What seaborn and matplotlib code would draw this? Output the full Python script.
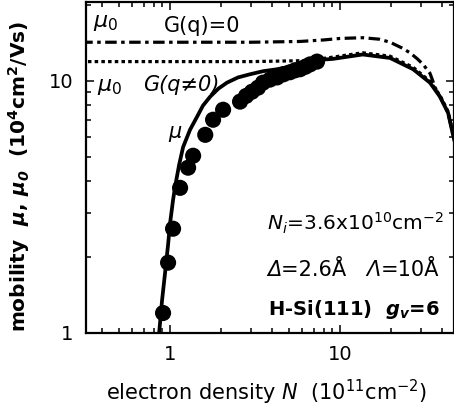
import numpy as np
import pandas as pd
import matplotlib
matplotlib.use("Agg")
import matplotlib.pyplot as plt
import seaborn as sns
from matplotlib.ticker import LogLocator, NullFormatter, FixedLocator, FixedFormatter

# ---------------- data ----------------
# measured mobility points (circles)
dots_N = [0.909, 0.973, 1.041, 1.145, 1.276, 1.366, 1.61, 1.79, 2.05, 2.58,
          2.80, 3.03, 3.29, 3.52, 3.87, 4.26, 4.65, 5.08, 5.45, 5.82, 6.25, 6.66, 7.32]
dots_mu = [1.20, 1.90, 2.59, 3.76, 4.52, 5.04, 6.10, 7.00, 7.67, 8.26,
           8.70, 9.04, 9.38, 9.82, 10.1, 10.3, 10.6, 10.8, 11.0, 11.1, 11.35, 11.6, 11.9]

# calculated mobility mu (solid)
mu_N = [0.855, 0.862, 0.897, 0.934, 0.973, 1.0, 1.041, 1.070, 1.13, 1.192, 1.31,
        1.44, 1.56, 1.72, 1.92, 2.16, 2.51, 2.95, 3.52, 4.26, 5.82, 7.63, 9.09,
        13.6, 19.7, 26.9, 33.8, 38.7, 43.2, 46.2, 48.0]
mu_val = [0.95, 1.00, 1.35, 1.73, 2.24, 2.73, 3.37, 3.80, 4.64, 5.45, 6.39,
          7.19, 7.96, 8.64, 9.29, 9.82, 10.3, 10.6, 10.9, 11.1, 11.6, 12.1, 12.2,
          12.7, 12.3, 11.1, 9.82, 8.64, 7.46, 6.10, 5.5]

# mu_0 with G(q)=0 (dash-dot)
g0_N = [0.30, 1.0, 3.0, 5.8, 8.0, 10.0, 13.6, 17.0, 19.7, 23.0, 25.8, 28.5,
        30.8, 33.8, 36.5, 38.7, 43.2, 46.2, 48.0]
g0_val = [14.2, 14.2, 14.2, 14.3, 14.5, 14.7, 14.8, 14.6, 14.2, 13.5, 12.9, 12.2,
          11.6, 10.7, 9.3, 8.64, 7.46, 6.10, 5.5]

# mu_0 with G(q!=0) (dotted)
gq_N = [0.30, 1.0, 3.0, 6.0, 7.6, 9.1, 13.6, 19.7, 26.9, 33.8, 38.7, 43.2, 46.2, 48.0]
gq_val = [11.9, 11.9, 11.9, 12.0, 12.2, 12.4, 12.9, 12.5, 11.3, 9.95, 8.75, 7.55, 6.2, 5.6]

xticks = [1, 10]
xticklabels = ["1", "10"]
yticks = [1, 10]
yticklabels = ["1", "10"]

# ---------------- style ----------------
sns.set_theme(style="ticks")
plt.rcParams["font.family"] = ["DejaVu Sans"]
plt.rcParams["mathtext.fontset"] = "dejavusans"
for k in ["text.color", "axes.labelcolor", "xtick.color", "ytick.color", "axes.edgecolor"]:
    plt.rcParams[k] = "black"

W, H = 454, 409
fig = plt.figure(figsize=(W / 100, H / 100), dpi=100)
fig.patch.set_facecolor("white")


def fx(px):
    return px / W


def fy(py):
    return 1 - py / H


ax = fig.add_axes([fx(86), fy(333), (453.5 - 86) / W, (333 - 2) / H])
ax.set_facecolor("white")

sns.lineplot(x=g0_N, y=g0_val, ax=ax, color="black", lw=2.3, sort=False,
             estimator=None, linestyle=(0, (3.6, 1.4, 1.1, 1.4)))
sns.lineplot(x=gq_N, y=gq_val, ax=ax, color="black", lw=2.3, sort=False,
             estimator=None, linestyle=(0, (1.1, 1.0)))
sns.lineplot(x=mu_N, y=mu_val, ax=ax, color="black", lw=2.7, sort=False,
             estimator=None)
sns.scatterplot(x=dots_N, y=dots_mu, ax=ax, color="black", s=135,
                edgecolor="none", zorder=3)

ax.set_xscale("log")
ax.set_yscale("log")
ax.set_xlim(0.32, 46.5)
ax.set_ylim(1, 20.5)

ax.xaxis.set_major_locator(FixedLocator(xticks))
ax.xaxis.set_major_formatter(FixedFormatter(xticklabels))
ax.yaxis.set_major_locator(FixedLocator(yticks))
ax.yaxis.set_major_formatter(FixedFormatter(yticklabels))
ax.xaxis.set_minor_locator(LogLocator(base=10, subs=np.arange(2, 10), numticks=20))
ax.yaxis.set_minor_locator(LogLocator(base=10, subs=np.arange(2, 10), numticks=20))
ax.xaxis.set_minor_formatter(NullFormatter())
ax.yaxis.set_minor_formatter(NullFormatter())

ax.tick_params(which="both", direction="in", top=True, right=True,
               color="black", width=1.1)
ax.tick_params(which="major", length=6, labelsize=14, labelcolor="black")
ax.tick_params(which="minor", length=3.5)
ax.tick_params(axis="x", which="major", pad=9)
ax.tick_params(axis="y", which="major", pad=9)
for sp in ax.spines.values():
    sp.set_color("black")
    sp.set_linewidth(1.6)
ax.set_xlabel("")
ax.set_ylabel("")

# ---------------- text ----------------
fs = 15
fig.canvas.draw()
renderer = fig.canvas.get_renderer()


def text_run(x_px, y_px, pieces, **common):
    """Place text pieces one after another on a common baseline."""
    x = x_px
    for s, kw in pieces:
        opts = dict(common)
        opts.update(kw)
        t = fig.text(fx(x), fy(y_px), s, ha="left", va="baseline", **opts)
        bb = t.get_window_extent(renderer=renderer)
        x += bb.width


fig.text(fx(93), fy(23), r"$\mu_{\mathit{0}}$", fontsize=fs + 1, ha="left", va="center")
fig.text(fx(164), fy(26), "G(q)=0", fontsize=fs, ha="left", va="center")
fig.text(fx(97), fy(87), r"$\mu_{\mathit{0}}$", fontsize=fs + 1, ha="left", va="center")
fig.text(fx(143), fy(85), "G(q≠0)", fontsize=fs, style="italic", ha="left", va="center")
fig.text(fx(168), fy(134), r"$\mu$", fontsize=fs, ha="left", va="center")

fig.text(fx(267), fy(231), r"$N_{i}$=3.6x10$^{10}$cm$^{-2}$", fontsize=fs - 0.5,
         ha="left", va="baseline")
text_run(267, 276, [("Δ", {"style": "italic"}), ("=2.6Å   ", {}),
                    ("Λ", {"style": "italic"}), ("=10Å", {})], fontsize=fs)
fig.text(fx(268), fy(315), r"H-Si(111)  $\mathbfit{g}_{\mathbfit{v}}$=6",
         fontsize=14, fontweight="bold", ha="left", va="baseline")

fig.text(fx(267), fy(400), r"electron density $N$  (10$^{11}$cm$^{-2}$)",
         fontsize=fs, ha="center", va="baseline")
fig.text(fx(19), fy(332),
         r"mobility  $\mathbfit{\mu}$, $\mathbfit{\mu}_{\mathbfit{0}}$  (10$^{\mathbf{4}}$cm$^{\mathbf{2}}$/Vs)",
         fontsize=14.5, fontweight="bold", rotation=90, ha="center", va="bottom")

fig.savefig("out.png", dpi=100, facecolor="white")
